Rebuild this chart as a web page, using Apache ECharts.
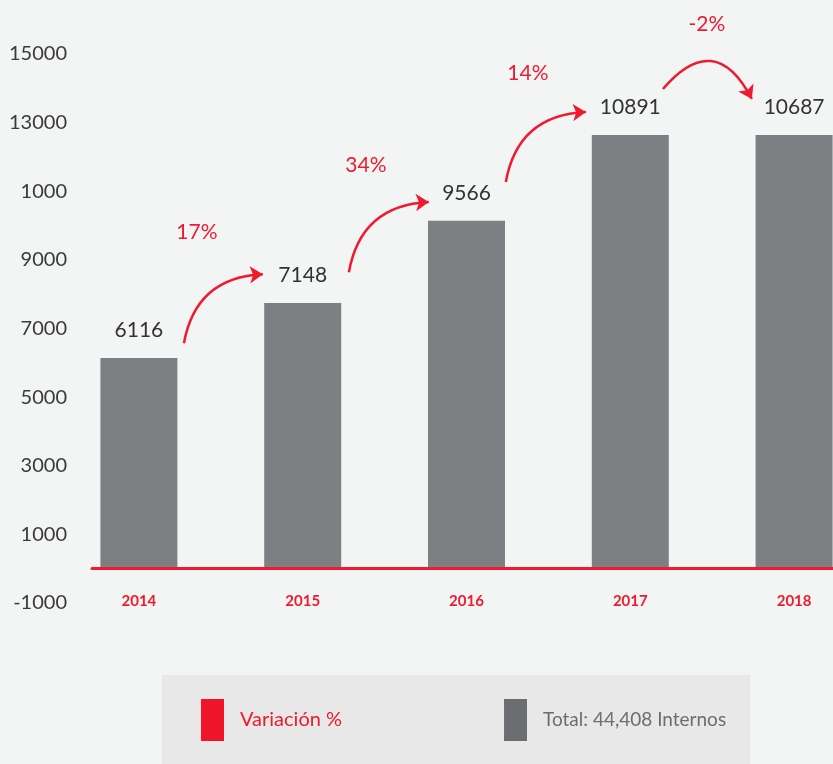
<!DOCTYPE html>
<html>
<head>
<meta charset="utf-8">
<script src="https://cdn.jsdelivr.net/npm/echarts@6/dist/echarts.min.js"></script>
<style>
  html, body { margin: 0; padding: 0; background: #f3f4f4; }
  #main { width: 833px; height: 764px; }
</style>
</head>
<body>
<div id="main"></div>
<script>
// datos
const years = ['2014', '2015', '2016', '2017', '2018']
const barValues = [6140, 7740, 10140, 12640, 12640]
const barLabels = ['6116', '7148', '9566', '10891', '10687']
const variation = ['17%', '34%', '14%', '-2%']
const yTickLabels = ['-1000', '1000', '3000', '5000', '7000', '9000', '1000', '13000', '15000']
// flechas: [inicio, fin] en coordenadas de los ejes (x = indice de categoria)
const arrowFrom = [[0.275, 6570], [1.282, 8640], [2.240, 11270], [3.199, 13980]]
const arrowTo = [[0.757, 8580], [1.770, 10690], [2.729, 13310], [3.742, 13690]]
const arrowCurve = [0.4, 0.4, 0.4, 0.74]
const pctPos = [[0.354, 9810], [1.386, 11770], [2.375, 14450], [3.468, 15880]]

const RED = '#ef1a2e'
const GRAY = '#7e7f83'
const FONT = 'Lato, sans-serif'

const chart = echarts.init(document.getElementById('main'))

chart.setOption({
  backgroundColor: '#f3f4f4',
  animation: false,
  grid: [
    // barras (la ultima queda cortada por la derecha como en la imagen)
    { left: 57, width: 819, top: 54, bottom: 161, outerBoundsMode: 'none', containLabel: false },
    // eje rojo y etiquetas del eje y
    { left: 92, right: 0, top: 54, bottom: 161, outerBoundsMode: 'none', containLabel: false },
  ],
  xAxis: [
    {
      type: 'category',
      gridIndex: 0,
      data: years,
      axisLine: { show: false },
      axisTick: { show: false },
      axisLabel: {
        margin: -9,
        color: RED,
        fontFamily: FONT,
        fontWeight: 'bold',
        fontSize: 15,
      },
    },
    {
      type: 'value',
      gridIndex: 0,
      min: -0.5,
      max: 4.5,
      show: false,
    },
    {
      type: 'value',
      gridIndex: 1,
      min: 0,
      max: 1,
      z: 5,
      axisLine: { onZero: true, lineStyle: { color: RED, width: 3 } },
      axisTick: { show: false },
      axisLabel: { show: false },
      splitLine: { show: false },
    },
  ],
  yAxis: [
    {
      type: 'value',
      gridIndex: 0,
      min: -1000,
      max: 15000,
      show: false,
    },
    {
      type: 'value',
      gridIndex: 1,
      min: -1000,
      max: 15000,
      interval: 2000,
      axisLine: { show: false, onZero: false },
      axisTick: { show: false },
      splitLine: { show: false },
      axisLabel: {
        margin: 25,
        color: '#3a3a3a',
        fontFamily: FONT,
        fontSize: 20,
        formatter: v => yTickLabels[Math.round((v + 1000) / 2000)],
      },
    },
  ],
  legend: {
    left: 162,
    top: 675,
    orient: 'horizontal',
    backgroundColor: '#e8e8e8',
    borderRadius: 0,
    padding: [24, 24, 40, 39],
    itemWidth: 23,
    itemHeight: 42,
    itemGap: 162,
    icon: 'rect',
    selectedMode: false,
    textStyle: { fontFamily: FONT, fontSize: 20, padding: [0, 0, 0, 11] },
    data: [
      { name: 'Variación %', itemStyle: { color: '#f0142b' }, textStyle: { color: RED } },
      { name: 'Total: 44,408 Internos', itemStyle: { color: '#6c6d70' }, textStyle: { color: '#6c6d70', fontSize: 19 } },
    ],
  },
  series: [
    {
      name: 'Total: 44,408 Internos',
      type: 'bar',
      xAxisIndex: 0,
      yAxisIndex: 0,
      barWidth: 77,
      data: barValues,
      itemStyle: { color: GRAY },
      label: {
        show: true,
        position: 'top',
        distance: 17,
        color: '#333',
        fontFamily: FONT,
        fontSize: 21,
        formatter: p => barLabels[p.dataIndex],
      },
    },
    {
      name: 'Variación %',
      type: 'lines',
      coordinateSystem: 'cartesian2d',
      xAxisIndex: 1,
      yAxisIndex: 0,
      clip: false,
      symbol: ['none', 'arrow'],
      symbolSize: 13,
      itemStyle: { color: RED },
      data: arrowFrom.map((p, i) => ({
        coords: [p, arrowTo[i]],
        lineStyle: { color: RED, width: 2.5, opacity: 1, curveness: arrowCurve[i] },
      })),
    },
    {
      type: 'scatter',
      xAxisIndex: 1,
      yAxisIndex: 0,
      clip: false,
      symbolSize: 1,
      itemStyle: { color: 'transparent', opacity: 1 },
      data: pctPos,
      label: {
        show: true,
        position: 'inside',
        color: RED,
        opacity: 1,
        fontFamily: FONT,
        fontSize: 21,
        formatter: p => variation[p.dataIndex],
      },
    },
  ],
})
</script>
</body>
</html>
